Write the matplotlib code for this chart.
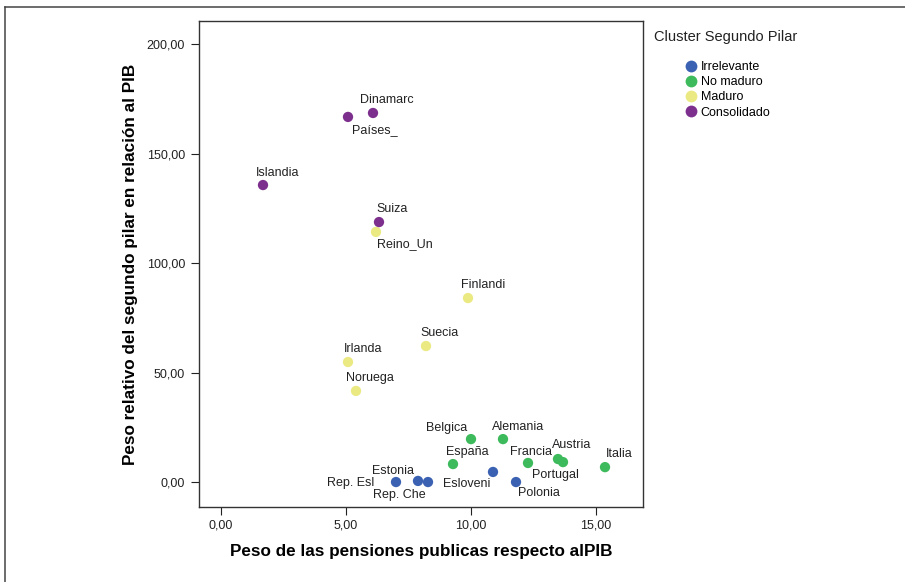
import numpy as np
import matplotlib.pyplot as plt
from matplotlib.lines import Line2D
from matplotlib.ticker import FuncFormatter

plt.rcParams['font.family'] = ['Liberation Sans', 'DejaVu Sans']

paises = ["Dinamarc", "Países_", "Islandia", "Suiza", "Reino_Un", "Finlandi",
          "Suecia", "Irlanda", "Noruega", "Belgica", "Alemania", "España",
          "Francia", "Austria", "Portugal", "Italia", "Esloveni", "Polonia",
          "Rep. Esl", "Estonia", "Rep. Che"]
pib_pensiones = [6.08, 5.08, 1.68, 6.32, 6.2, 9.88,
                 8.2, 5.08, 5.4, 10.0, 11.28, 9.28,
                 12.28, 13.48, 13.68, 15.36, 10.88, 11.8,
                 7.0, 7.88, 8.28]
segundo_pilar = [168.5, 166.7, 135.6, 118.7, 114.2, 84.0,
                 62.1, 54.8, 41.6, 19.6, 19.6, 8.2,
                 8.7, 10.5, 9.1, 6.8, 4.6, 0.0,
                 0.0, 0.5, 0.0]
cluster = ["Consolidado", "Consolidado", "Consolidado", "Consolidado", "Maduro", "Maduro",
           "Maduro", "Maduro", "Maduro", "No maduro", "No maduro", "No maduro",
           "No maduro", "No maduro", "No maduro", "No maduro", "Irrelevante", "Irrelevante",
           "Irrelevante", "Irrelevante", "Irrelevante"]

clusters = ["Irrelevante", "No maduro", "Maduro", "Consolidado"]
colores = {"Irrelevante": "#3b61b3", "No maduro": "#3dba5b",
           "Maduro": "#ebe982", "Consolidado": "#7d2f8e"}

# label offsets in pixels (dx, dy)
offsets = [(14, 13), (27, -13), (15, 12), (13, 13), (29, -12), (15, 13),
           (14, 13), (15, 13), (14, 13), (-24, 11), (15, 12), (14, 12),
           (3, 11), (14, 14), (-8, -13), (14, 13), (-26, -12), (23, -11),
           (-45, -1), (-25, 10), (-29, -13)]

fig = plt.figure(figsize=(9.05, 5.82), dpi=100)
ax = fig.add_axes([199/905, 1-507/582, 444/905, 486/582])

for c in clusters:
    idx = [i for i, k in enumerate(cluster) if k == c]
    ax.scatter([pib_pensiones[i] for i in idx], [segundo_pilar[i] for i in idx],
               s=55, color=colores[c], edgecolors="none", zorder=3)

for i, p in enumerate(paises):
    ax.annotate(p, (pib_pensiones[i], segundo_pilar[i]), xytext=offsets[i],
                textcoords="offset pixels", ha="center", va="center",
                fontsize=9, color="#222222")

ax.set_xlim(-0.88, 16.88)
ax.set_ylim(-11.4, 210.5)
ax.set_xticks([0, 5, 10, 15])
ax.set_yticks([0, 50, 100, 150, 200])
fmt = FuncFormatter(lambda v, pos: f"{v:.2f}".replace(".", ","))
ax.xaxis.set_major_formatter(fmt)
ax.yaxis.set_major_formatter(fmt)
ax.tick_params(direction="out", length=6, width=0.8, labelsize=9,
               colors="#222222", pad=4)
ax.tick_params(axis="x", pad=3)
for s in ax.spines.values():
    s.set_linewidth(1.0)
    s.set_color("#333333")

ax.set_xlabel("Peso de las pensiones publicas respecto alPIB", fontsize=12.3,
              fontweight="bold", labelpad=9)
ax.set_ylabel("Peso relativo del segundo pilar en relación al PIB", fontsize=12.3,
              fontweight="bold", labelpad=6)

fig.text(654/905, 1-37/582, "Cluster Segundo Pilar", fontsize=10.5,
         va="center", ha="left", color="#222222")
handles = [Line2D([], [], marker="o", linestyle="none", markersize=8.5,
                  markerfacecolor=colores[c], markeredgecolor="none", label=c)
           for c in clusters]
fig.legend(handles=handles, loc="upper left", bbox_to_anchor=(677/905, 1-55/582),
           frameon=False, fontsize=9, handletextpad=0.2, labelspacing=0.25,
           borderpad=0, handlelength=1.2)

fig.add_artist(Line2D([5/905, 5/905], [0, 1-7/582], color="#444444", lw=1.1))
fig.add_artist(Line2D([5/905, 1], [1-7/582, 1-7/582], color="#444444", lw=1.1))

fig.savefig("out.png", dpi=100)
